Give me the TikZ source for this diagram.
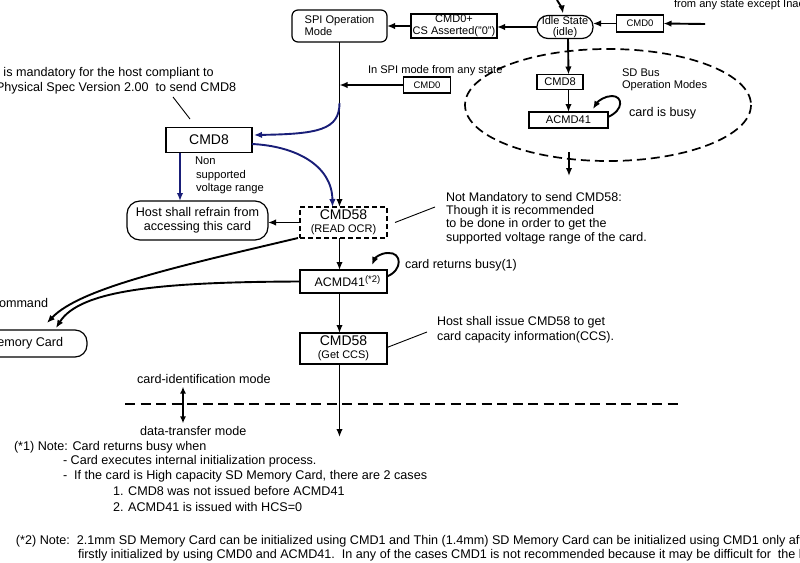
\documentclass[tikz,border=0pt]{standalone}
\usepackage{fontspec}
\setmainfont{Liberation Sans}
\usetikzlibrary{arrows.meta,calc}
\definecolor{navy}{RGB}{25,30,120}
\begin{document}
\begin{tikzpicture}[x=1pt,y=-1pt,
  every node/.style={inner sep=0pt, outer sep=0pt},
  box/.style={draw, line width=1.2pt, align=center},
  rbox/.style={draw, line width=1.2pt, rounded corners=6pt},
  arr/.style={line width=1.9pt, -{Latex[length=8pt,width=6.5pt]}},
  barr/.style={arr, draw=navy},
  fA/.style={font=\fontsize{12.6}{13.6}\selectfont},
  fB/.style={font=\fontsize{11.1}{12}\selectfont},
  fC/.style={font=\fontsize{9.5}{11}\selectfont},
  fD/.style={font=\fontsize{14}{15}\selectfont},
]
\useasboundingbox (0,0) rectangle (800,562);
\clip (0,0) rectangle (800,562);
\fill[white] (0,0) rectangle (800,562);

% ---- top row
\node[rbox, fB, minimum width=95, minimum height=32, align=left] (spi) at (339.5,26) {SPI Operation\\Mode\phantom{ration}};
\node[box, fB, minimum width=86, minimum height=24, font=\fontsize{11}{11.5}\selectfont] (cmd0p) at (454,26) {CMD0+\\CS Asserted("0")};
\node[draw, line width=1.2pt, rounded corners=11pt, minimum width=56, minimum height=23, align=center, font=\fontsize{11}{11.5}\selectfont] (idle) at (565,27) {Idle State\\(idle)};
\node[box, fC, minimum width=47, minimum height=17] (cmd0r) at (640,23.5) {CMD0};
\coordinate (rin) at (705,24);
\coordinate (topin) at (557,0);
\node[fB, anchor=west] (fromany) at (674,5) {from any state except Inactive State};

\draw[arr] (rin) -- (cmd0r.east);
\draw[arr] (cmd0r.west) -- (cmd0r.west -| idle.east);
\draw[arr] (topin) .. controls (560,5) and (562,8) .. ($(idle.north)+(-2,-2)$);
\draw[arr] (idle.west) -- (idle.west -| cmd0p.east);
\draw[arr] (cmd0p.west) -- (cmd0p.west -| spi.east);

% ---- SD bus operation modes
\node[box, fB, minimum width=46, minimum height=15] (sdcmd8) at (560,82) {CMD8};
\node[box, fB, minimum width=79, minimum height=16] (sdacmd) at (568.5,120) {ACMD41};
\node[fB, anchor=west, align=left] (sdlbl) at (622,80) {SD Bus\\Operation Modes};
\node[fA, anchor=west] (busy) at (629,113) {card is busy};
\draw[line width=1.7pt, dash pattern=on 9pt off 5pt] (608,105) ellipse [x radius=143, y radius=56];
\draw[arr] ($(idle.south)+(3,0)$) -- ($(sdcmd8.north)+(8.5,0)$);
\draw[arr] ($(sdcmd8.south)+(8.5,0)$) -- (sdacmd.north);
\draw[arr] ($(sdacmd.east)+(0,-3)$) .. controls (624,110) and (623,96) .. (612,96) .. controls (605,96) and (598,101) .. (593,109);
\coordinate (ellb1) at (569,152);
\coordinate (ellb2) at (569,176);
\draw[arr] (ellb1) -- (ellb2);

% ---- SPI CMD0
\node[box, fC, minimum width=47, minimum height=16] (spicmd0) at (427,85) {CMD0};
\node[fB, anchor=west] (inspi) at (368,71) {In SPI mode from any state};
\draw[arr] (spicmd0.west) -- (spicmd0.west -| spi.south);

% ---- top-left note
\node[fA, anchor=west, align=left] (mand) at (-7,80.5) {It is mandatory for the host compliant to\\[1.5pt]\hspace{3pt}Physical Spec Version 2.00 \ to send CMD8};
\coordinate (m1) at (173,97);
\coordinate (m2) at (190,119);
\draw[line width=0.9pt] (m1) -- (m2);

% ---- CMD8 and host
\node[box, fD, minimum width=86, minimum height=25] (cmd8) at (209,140) {CMD8};
\node[draw, line width=1.2pt, rounded corners=13pt, minimum width=141, minimum height=39, align=center, fA] (host) at (197.5,220.5) {Host shall refrain from\\accessing this card};
\node[fB, anchor=north west, align=left, font=\fontsize{11.2}{13.5}\selectfont] (nonsup) at (195,157) {Non\\\hspace{1pt}supported\\\hspace{1pt}voltage range};

% ---- CMD58 (READ OCR)
\node[draw, line width=1.7pt, dash pattern=on 5pt off 3pt, minimum width=87, minimum height=31, align=center, fD] (cmd58a) at (343.5,222.5) {CMD58\\[-2pt]{\fontsize{11}{12}\selectfont (READ OCR)}};
\node[fA, anchor=north west, align=left, font=\fontsize{12.5}{13.4}\selectfont] (note1) at (446,192) {Not Mandatory to send CMD58:\\Though it is recommended\\to be done in order to get the\\supported voltage range of the card.};
\draw[line width=0.9pt] ($(cmd58a.east)+(8,0)$) -- ($(note1.north west)+(-11,15)$);

% main spine
\coordinate (b1) at (339.5,103);
\draw[arr] (spi.south) -- (spi.south |- cmd58a.north);
\draw[barr] (b1) .. controls (339.5,130) and (318,134) .. ($(cmd8.east)+(2,-5)$);
\draw[barr] ($(cmd8.east)+(0,4)$) .. controls (295,146) and (332,165) .. ($(cmd58a.north)+(-11,0)$);
\draw[barr] ($(cmd8.south)+(-29,0)$) -- ($(host.north)+(-17.5,0)$);
\draw[arr] (cmd58a.west) -- (cmd58a.west -| host.east);

% ---- ACMD41
\node[box, fA, minimum width=87, minimum height=23, font=\fontsize{12.4}{13}\selectfont] (acmd) at (343.5,281.5) {\hspace{8pt}ACMD41\raisebox{4pt}{\fontsize{9.5}{10}\selectfont(*2)}};
\draw[arr] (spi.south |- cmd58a.south) -- (spi.south |- acmd.north);
\draw[arr] ($(acmd.east)+(0,-5)$) .. controls (403,270) and (402,252) .. (388,253) .. controls (380,253) and (375,258) .. (372,265);
\node[fA, anchor=west, font=\fontsize{12.5}{13}\selectfont] (retbusy) at (405,265) {card returns busy(1)};

% ---- memory card
\node[draw, line width=1.2pt, rounded corners=12pt, anchor=east, minimum width=124, minimum height=27, fA] (mem) at (87,343.5) {Memory Card};
\node[fA, anchor=west] (omm) at (-1,303) {ommand};
\draw[arr] ($(cmd58a.south west)+(-2,0)$) .. controls (180,266) and (80,288) .. ($(mem.north)+(22,-7)$);
\draw[arr] (acmd.west) .. controls (160,282) and (80,290) .. ($(mem.north)+(31,-2)$);

% ---- CMD58 (Get CCS)
\node[box, fD, minimum width=87, minimum height=31] (cmd58b) at (343.5,348.5) {CMD58\\[-2pt]{\fontsize{11}{12}\selectfont (Get CCS)}};
\draw[arr] (spi.south |- acmd.south) -- (spi.south |- cmd58b.north);
\node[fA, anchor=north west, align=left, font=\fontsize{12.5}{15}\selectfont] (note2) at (437,316) {Host shall issue CMD58 to get\\card capacity information(CCS).};
\draw[line width=0.9pt] ($(cmd58b.east)+(0,-1)$) -- ($(note2.north west)+(-10,16)$);
\coordinate (endd) at (339.5,437);
\draw[arr] (spi.south |- cmd58b.south) -- (endd);

% ---- mode boundary
\coordinate (dl) at (125,404);
\coordinate (dr) at (678,404);
\draw[line width=2.8pt, dash pattern=on 10pt off 5.5pt] (dl) -- (dr);
\node[fA, anchor=west] (cid) at (137,379) {card-identification mode};
\node[fA, anchor=west] (dtm) at (140,431) {data-transfer mode};
\draw[line width=1.9pt, {Latex[length=7pt,width=6pt]}-{Latex[length=7pt,width=6pt]}] ($(cid.south west)+(46,3)$) -- ($(dtm.north west)+(43,-3)$);

% ---- notes
\node[fA, anchor=west] (n1) at (14,447) {(*1) Note: Card returns busy when};
\node[fA, anchor=west] (n2) at (63,461) {- Card executes internal initialization process.};
\node[fA, anchor=west] (n3) at (63,476) {-\ \ If the card is High capacity SD Memory Card, there are 2 cases};
\node[fA, anchor=west] (n4) at (113,491) {1. CMD8 was not issued before ACMD41};
\node[fA, anchor=west] (n5) at (113,507) {2. ACMD41 is issued with HCS=0};
\node[fA, anchor=west] (n6) at (16,541) {(*2) Note:\ \ 2.1mm SD Memory Card can be initialized using CMD1 and Thin (1.4mm) SD Memory Card can be initialized using CMD1 only after};
\node[fA, anchor=west] (n7) at (78,555) {firstly initialized by using CMD0 and ACMD41.\ \ In any of the cases CMD1 is not recommended because it may be difficult for\ \ the host};
\end{tikzpicture}
\end{document}
